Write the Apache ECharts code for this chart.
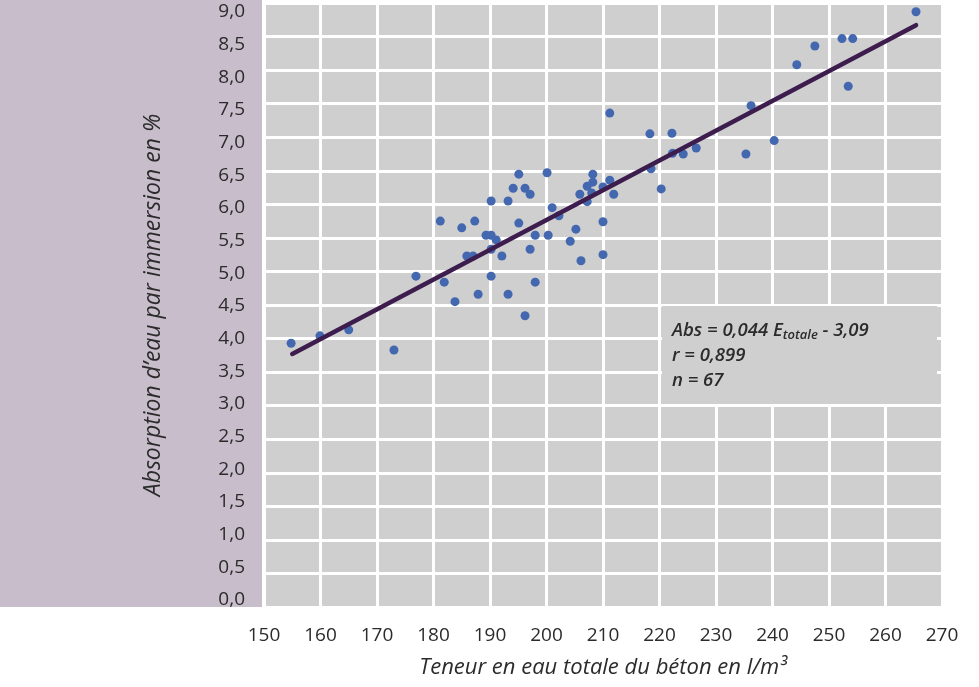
<!DOCTYPE html>
<html>
<head>
<meta charset="utf-8">
<script src="https://cdn.jsdelivr.net/npm/echarts@6/dist/echarts.min.js"></script>
<style>
html,body{margin:0;padding:0;background:#fff;}
#chart{width:979px;height:687px;}
</style>
</head>
<body>
<div id="chart"></div>
<script>
// Water content (l/m3)
const waterContent = [154.8,159.9,165.0,173.0,176.9,181.2,181.9,183.8,185.0,185.9,187.0,187.3,187.9,189.3,190.2,190.2,190.2,190.2,191.1,192.1,193.2,193.2,194.1,195.1,195.1,196.2,196.2,197.1,197.1,198.0,198.0,200.1,200.3,201.0,202.2,204.2,205.2,205.9,206.1,207.2,207.2,208.0,208.2,208.2,210.0,210.0,210.0,211.2,211.9,211.2,218.3,218.5,220.3,222.2,222.3,224.2,226.5,235.3,236.2,240.3,244.3,247.5,252.3,253.4,254.2,265.4];
// Absorption (%)
const absorption = [3.93,4.04,4.13,3.83,4.93,5.75,4.84,4.55,5.65,5.23,5.23,5.75,4.66,5.54,5.54,6.05,5.33,4.93,5.47,5.23,6.05,4.66,6.24,6.45,5.72,6.24,4.34,6.15,5.33,5.54,4.84,6.47,5.54,5.95,5.83,5.45,5.63,6.15,5.16,6.27,6.04,6.17,6.45,6.33,6.26,5.74,5.25,6.36,6.15,7.36,7.05,6.53,6.23,7.06,6.76,6.75,6.84,6.75,7.47,6.95,8.08,8.36,8.47,7.76,8.47,8.87];
// Regression line endpoints as drawn
const fitX = [155.0, 265.4];
const fitY = [3.77, 8.67];
// Tick labels
const yTicks = [0,0.5,1,1.5,2,2.5,3,3.5,4,4.5,5,5.5,6,6.5,7,7.5,8,8.5,9];
const xTicks = [150,160,170,180,190,200,210,220,230,240,250,260,270];
const xTitle = 'Teneur en eau totale du béton en l/m³';
const yTitle = 'Absorption d’eau par immersion en %';
const annot = ['Abs = 0,044 E', 'totale', ' - 3,09', 'r = 0,899', 'n = 67'];

const points = waterContent.map((x, i) => [x, absorption[i]]);
const fitLine = fitX.map((x, i) => [x, fitY[i]]);

const FONT = 'Open Sans';
const TXT = '#2b2b2b';

const chart = echarts.init(document.getElementById('chart'), null, {renderer: 'canvas'});
chart.setOption({
  animation: false,
  backgroundColor: '#ffffff',
  grid: {left: 264, right: 37, top: 3, bottom: 80, show: true, backgroundColor: '#cfcfcf', borderWidth: 0},
  graphic: [
    {type: 'rect', z: -10, shape: {x: 0, y: 0, width: 262, height: 607}, style: {fill: '#c8bdcb'}},
    {type: 'rect', z: 10, shape: {x: 662, y: 306, width: 275, height: 98}, style: {fill: '#cfcfcf'}},
    {type: 'text', z: 11, x: 672, y: 318, style: {
      text: '{a|' + annot[0] + '}{s|' + annot[1] + '}{a|' + annot[2] + '}\n{a|' + annot[3] + '}\n{a|' + annot[4] + '}',
      rich: {
        a: {fontFamily: FONT, fontStyle: 'italic', fontWeight: 600, fontSize: 18.5, fill: TXT, lineHeight: 25},
        s: {fontFamily: FONT, fontStyle: 'italic', fontWeight: 600, fontSize: 13, fill: TXT, lineHeight: 25, padding: [9, 0, 0, 0]}
      }
    }}
  ],
  xAxis: {
    type: 'value', min: 150, max: 270, interval: 10,
    name: xTitle, nameLocation: 'middle', nameGap: 50,
    nameTextStyle: {fontFamily: FONT, fontStyle: 'italic', fontSize: 22, color: TXT},
    axisLine: {show: false}, axisTick: {show: false},
    axisLabel: {fontFamily: FONT, fontSize: 19, color: TXT, margin: 19, showMinLabel: true, showMaxLabel: true,
      customValues: xTicks},
    splitLine: {show: true, lineStyle: {color: '#ffffff', width: 3}}
  },
  yAxis: [
    {
      type: 'value', min: 0, max: 9, interval: 0.5,
      name: yTitle, nameLocation: 'middle', nameGap: 99, nameRotate: 90,
      nameTextStyle: {fontFamily: FONT, fontStyle: 'italic', fontSize: 23, color: TXT},
      axisLine: {show: false}, axisTick: {show: false},
      axisLabel: {show: false},
      splitLine: {show: true, lineStyle: {color: '#ffffff', width: 3}}
    },
    {
      type: 'value', min: -0.107, max: 9.138, position: 'left',
      axisLine: {show: false}, axisTick: {show: false},
      splitLine: {show: false},
      axisLabel: {fontFamily: FONT, fontSize: 19, color: TXT, margin: 19,
        customValues: yTicks,
        formatter: v => v.toFixed(1).replace('.', ',')}
    }
  ],
  series: [
    {
      type: 'scatter', data: points, symbolSize: 9, z: 3,
      itemStyle: {color: '#4468b0', opacity: 1}
    },
    {
      type: 'line', data: fitLine, showSymbol: false, symbol: 'none', z: 4,
      lineStyle: {color: '#3d1d4e', width: 4.5, cap: 'round'}
    }
  ]
});
</script>
</body>
</html>
